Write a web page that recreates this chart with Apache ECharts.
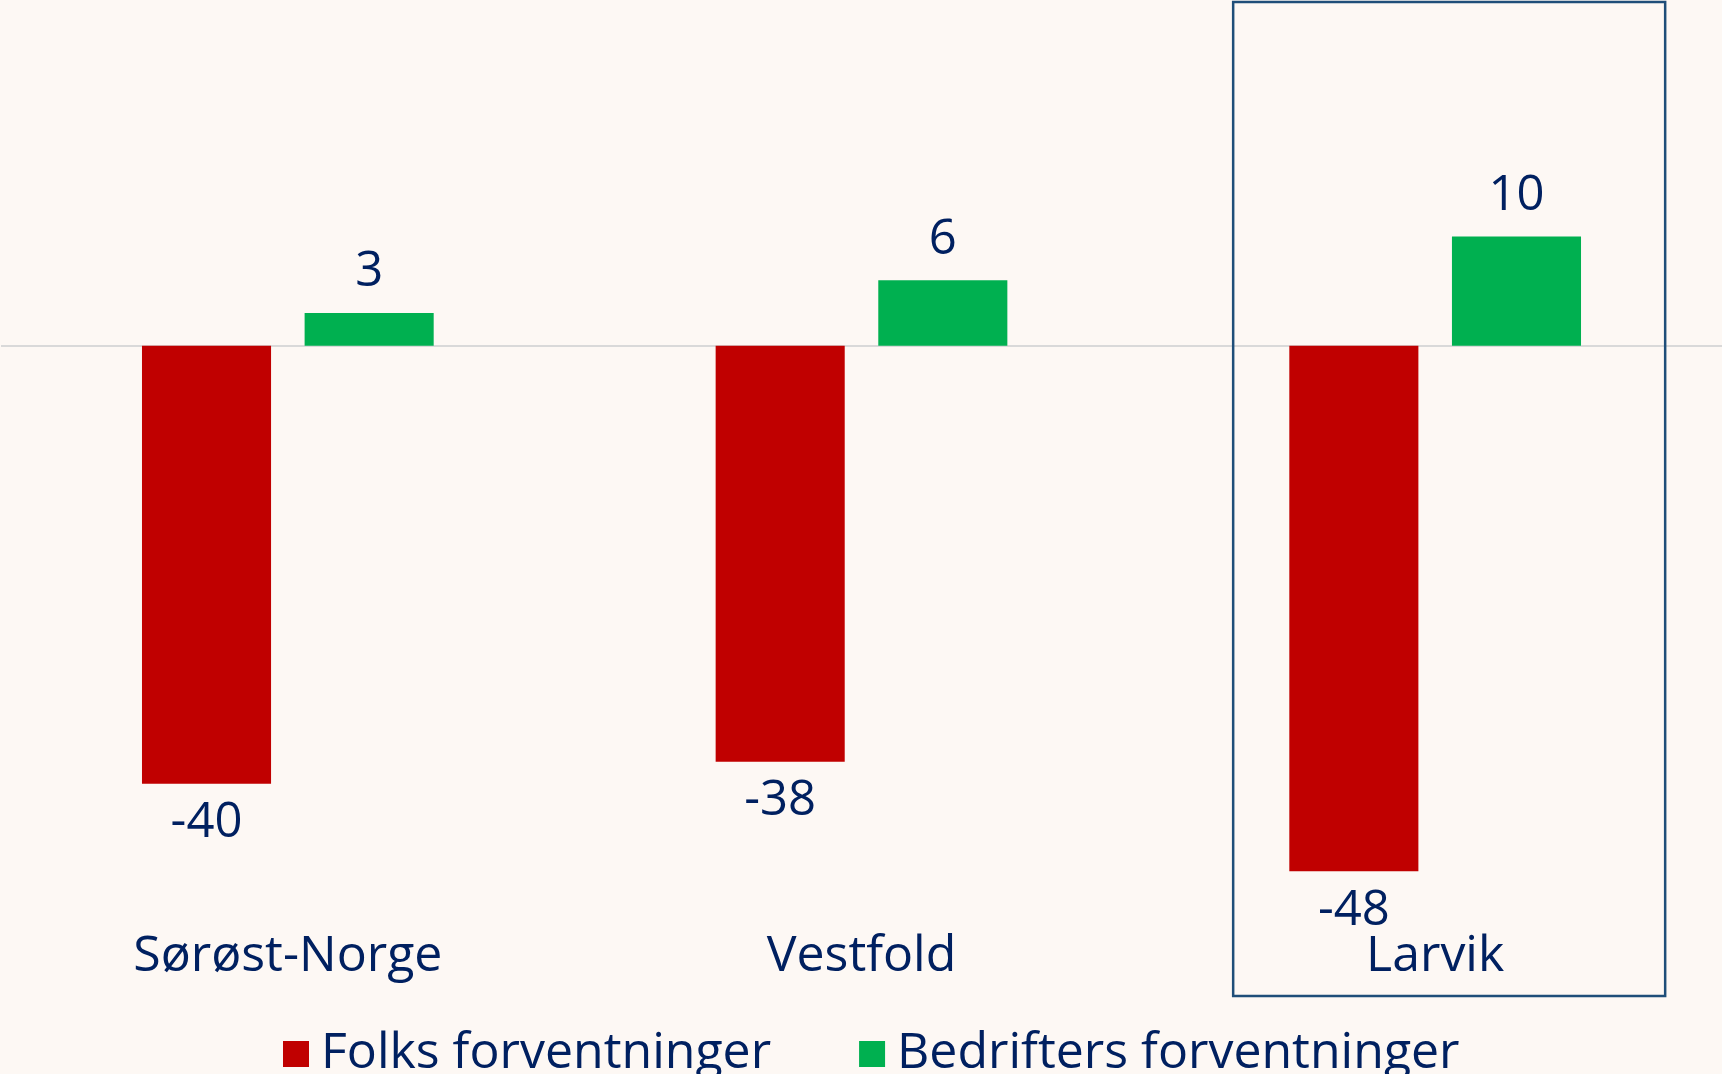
<!DOCTYPE html>
<html>
<head>
<meta charset="utf-8">
<script src="https://cdn.jsdelivr.net/npm/echarts@6/dist/echarts.min.js"></script>
<style>
	html, body { margin: 0; padding: 0; background: #fdf8f4; }
	#main { width: 1722px; height: 1074px; }
</style>
</head>
<body>
<div id="main"></div>
<script>
const categories = ['Sørøst-Norge', 'Vestfold', 'Larvik'];
const folks = [-40, -38, -48];
const bedrifter = [3, 6, 10];
const seriesNames = ['Folks forventninger', 'Bedrifters forventninger'];
const highlighted = 'Larvik';

const textColor = '#002060';
const fontFamily = '"Open Sans", Lato, sans-serif';

const chart = echarts.init(document.getElementById('main'));

const option = {
	backgroundColor: '#fdf8f4',
	animation: false,
	textStyle: { fontFamily },
	grid: {
		left: 1,
		right: 0,
		top: 17.5,
		bottom: 159,
		containLabel: false,
	},
	legend: {
		data: seriesNames,
		left: 278,
		top: 1024,
		icon: 'rect',
		itemWidth: 26,
		itemHeight: 26,
		itemGap: 88,
		textStyle: {
			fontSize: 50,
			color: textColor,
			padding: [0, 0, 0, 7],
		},
	},
	xAxis: {
		type: 'category',
		data: categories,
		axisLine: { show: false, onZero: false },
		axisTick: { show: false },
		axisLabel: {
			fontSize: 50,
			color: textColor,
			margin: 17,
		},
	},
	yAxis: {
		type: 'value',
		min: -52,
		max: 30,
		show: false,
		splitLine: { show: false },
	},
	series: [
		{
			name: seriesNames[0],
			type: 'bar',
			data: folks,
			barWidth: '22.5%',
			barGap: '26%',
			itemStyle: { color: '#c00000' },
			label: {
				show: true,
				position: 'bottom',
				distance: 15,
				fontSize: 49,
				color: textColor,
			},
			markLine: {
				silent: true,
				symbol: 'none',
				label: { show: false },
				lineStyle: { color: '#d9d9d9', type: 'solid', width: 2 },
				data: [{ yAxis: 0 }],
				z: 1,
			},
		},
		{
			name: seriesNames[1],
			type: 'bar',
			data: bedrifter,
			barWidth: '22.5%',
			itemStyle: { color: '#00b050' },
			label: {
				show: true,
				position: 'top',
				distance: 16,
				fontSize: 49,
				color: textColor,
			},
		},
	],
};

chart.setOption(option);

// highlight box round the Larvik group
const cx = chart.convertToPixel({ xAxisIndex: 0 }, highlighted);
chart.setOption({
	graphic: [{
		type: 'rect',
		shape: { x: cx - 202, y: 2, width: 432, height: 994 },
		style: { fill: 'none', stroke: '#1f4e79', lineWidth: 2.5 },
		z: 10,
	}],
});
</script>
</body>
</html>
